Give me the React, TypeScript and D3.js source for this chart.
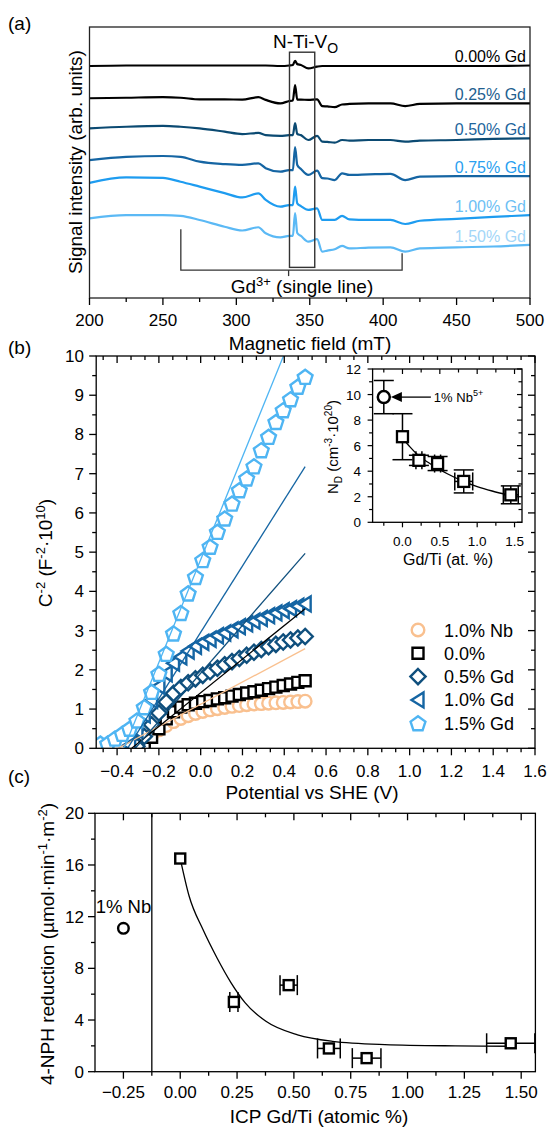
import React from 'react';
import * as d3 from 'd3';

// ---------- Panel (a): EPR spectra ----------
const FIELD = [200, 225, 250, 262, 275, 292, 304, 315, 320, 330, 336, 338.5, 340, 341.5, 344, 349, 355, 358.5, 362, 367, 372, 377, 390, 405, 415, 425, 450, 475, 500];
const TRACE_LABELS = ['0.00% Gd', '0.25% Gd', '0.50% Gd', '0.75% Gd', '1.00% Gd', '1.50% Gd'];
const T000 = [85.6, 85.8, 85.8, 85.8, 85.8, 85.8, 85.8, 85.8, 85.8, 85.6, 85.8, 86.0, 87.5, 86.3, 86.0, 84.7, 85.4, 85.6, 85.6, 85.6, 85.6, 85.6, 85.6, 85.6, 85.6, 85.6, 85.6, 85.6, 85.8];
const T025 = [73.7, 73.9, 74.1, 73.9, 73.3, 73.3, 73.2, 74.1, 73.1, 71.8, 72.7, 72.9, 78.6, 73.2, 73.2, 73.1, 73.3, 70.8, 70.7, 70.4, 71.4, 71.6, 71.8, 71.8, 70.8, 71.6, 71.8, 71.8, 71.8];
const T050 = [62.6, 63.2, 63.5, 63.2, 62.6, 61.4, 60.5, 60.9, 60.1, 59.8, 60.1, 60.1, 64.5, 60.5, 60.1, 58.3, 59.8, 57.7, 57.6, 57.3, 58.3, 58.1, 58.3, 58.3, 57.7, 58.1, 58.3, 58.7, 58.9];
const T075 = [50.9, 52.1, 52.4, 52.1, 50.3, 49.4, 49.1, 49.7, 47.9, 46.6, 47.2, 47.2, 55.7, 49.1, 47.6, 45.4, 47.0, 44.2, 44.1, 43.5, 46.0, 45.4, 45.6, 45.8, 43.5, 44.8, 45.0, 45.0, 45.0];
const T100 = [42.5, 44.5, 44.3, 42.9, 41.1, 38.7, 37.1, 38.6, 36.2, 33.7, 34.3, 34.3, 41.1, 34.9, 33.9, 32.5, 33.1, 28.8, 28.8, 28.8, 30.3, 29.0, 28.8, 28.8, 27.3, 28.5, 29.2, 29.9, 30.6];
const T150 = [29.4, 30.6, 30.6, 30.3, 28.8, 26.3, 24.9, 26.1, 23.9, 22.4, 22.9, 22.9, 31.3, 24.0, 22.9, 20.8, 21.7, 17.1, 17.5, 18.0, 19.2, 18.3, 18.6, 18.7, 17.1, 18.3, 18.7, 19.0, 19.6];
const TRACES = [T000, T025, T050, T075, T100, T150];
const A_XTICKS = [200, 250, 300, 350, 400, 450, 500];
const A_XMINOR = [225, 275, 325, 375, 425, 475];
const NTIVO_BOX = [336.2, 353.4, 90.7, 11.3]; // field from, field to, top, bottom (arb.)
const GD_BRACKET = [262.2, 412.9, 10.3, 25.4, 16.5]; // from, to, level, left top, right top

// ---------- Panel (b): Mott-Schottky ----------
const PB_X = [-0.48, -0.445, -0.41, -0.375, -0.34, -0.305, -0.27, -0.235, -0.2, -0.165, -0.13, -0.095, -0.06, -0.025, 0.01, 0.045, 0.08, 0.115, 0.15, 0.185, 0.22, 0.255, 0.29, 0.325, 0.36, 0.395, 0.43, 0.465, 0.5];
const N = null;
const NB10 = [N, N, N, N, N, 0.1, 0.2, 0.33, 0.47, 0.58, 0.68, 0.76, 0.83, 0.89, 0.94, 0.98, 1.01, 1.04, 1.07, 1.09, 1.11, 1.13, 1.14, 1.15, 1.16, 1.17, 1.18, 1.19, 1.2];
const GD00 = [N, N, N, N, N, N, 0.1, 0.28, 0.5, 0.75, 0.93, 1.05, 1.11, 1.15, 1.19, 1.22, 1.26, 1.29, 1.33, 1.37, 1.41, 1.44, 1.48, 1.52, 1.56, 1.6, 1.64, 1.68, 1.72];
const GD05 = [N, N, N, N, N, 0.05, 0.3, 0.6, 0.9, 1.18, 1.4, 1.55, 1.67, 1.77, 1.86, 1.95, 2.04, 2.13, 2.21, 2.29, 2.37, 2.45, 2.52, 2.59, 2.65, 2.71, 2.76, 2.81, 2.85];
const GD10 = [N, N, N, N, 0.08, 0.45, 0.85, 1.22, 1.58, 1.9, 2.17, 2.33, 2.48, 2.6, 2.7, 2.78, 2.87, 2.94, 3.02, 3.1, 3.17, 3.24, 3.31, 3.38, 3.45, 3.51, 3.56, 3.62, 3.68];
const GD15 = [0.12, 0.12, 0.25, 0.37, 0.5, 0.71, 1.05, 1.44, 1.9, 2.41, 2.93, 3.45, 3.95, 4.37, 4.8, 5.14, 5.52, 5.86, 6.24, 6.58, 6.88, 7.19, 7.6, 7.94, 8.32, 8.62, 8.9, 9.22, 9.47];
const PB_SERIES = [NB10, GD00, GD05, GD10, GD15];
const PB_NAMES = ['1.0% Nb', '0.0%', '0.5% Gd', '1.0% Gd', '1.5% Gd'];
const PB_COLORS = ['#f9c08f', '#000000', '#0f4f7d', '#1565a3', '#4fb5f3'];
const PB_SHAPES = ['circle', 'square', 'diamond', 'triangle', 'pentagon'];
// linear fits: start potential (C^-2 = 0) and value at 0.5 V
const FIT_X0 = [-0.395, -0.33, -0.313, -0.35, -0.367];
const FIT_X1 = [0.5, 0.5, 0.5, 0.5, 0.5];
const FIT_Y1 = [2.54, 3.56, 4.97, 7.18, 11.36];

// inset
const IN_X = [-0.25, 0, 0.22, 0.47, 0.82, 1.45];
const IN_Y = [9.8, 6.7, 4.85, 4.6, 3.2, 2.15];
const IN_YERR = [1.3, 1.8, 0.4, 0.55, 0.9, 0.7];
const IN_XERR = [0, 0, 0.04, 0.04, 0.12, 0.1];
const IN_FIT_X = [0, 0.1, 0.2, 0.3, 0.45, 0.6, 0.8, 1.0, 1.2, 1.45];
const IN_FIT_Y = [6.6, 5.9, 5.3, 4.85, 4.3, 3.8, 3.25, 2.8, 2.45, 2.1];

// ---------- Panel (c): 4-NPH reduction ----------
const C_NB = [-0.25, 11.1];
const C_X = [0, 0.236, 0.477, 0.654, 0.82, 1.454];
const C_Y = [16.5, 5.4, 6.7, 1.8, 1.05, 2.2];
const C_XERR = [0, 0.018, 0.038, 0.05, 0.063, 0.106];
const C_FIT_X = [0, 0.039, 0.1, 0.162, 0.223, 0.285, 0.377, 0.516, 0.67, 0.9, 1.21, 1.454];
const C_FIT_Y = [16.5, 13.6, 11.0, 8.8, 6.9, 5.35, 3.9, 2.85, 2.35, 2.1, 2.0, 1.97];
const C_DIVIDER = -0.125;

const FONT = "'Liberation Sans', Arial, Helvetica, sans-serif";
const TRACE_COLORS = ['#000000', '#000000', '#0b4a72', '#1565a3', '#1e9cf0', '#5bb9f5'];
const LABEL_COLORS = ['#000000', '#22608f', '#22659c', '#2a9ff0', '#6cc0f4', '#a3d6f8'];

function markerPath(shape: string): string {
  switch (shape) {
    case 'circle': {
      const r = 6.3;
      return `M${r},0A${r},${r} 0 1,1 ${-r},0A${r},${r} 0 1,1 ${r},0Z`;
    }
    case 'square': {
      const h = 5.5;
      return `M${-h},${-h}H${h}V${h}H${-h}Z`;
    }
    case 'diamond': {
      const h = 7.6;
      return `M0,${-h}L${h},0L0,${h}L${-h},0Z`;
    }
    case 'triangle':
      return `M-6.5,0L5.5,-7.5L5.5,7.5Z`;
    case 'pentagon': {
      const r = 7.8;
      const pts = d3.range(5).map((k) => {
        const a = (-90 + k * 72) * Math.PI / 180;
        return [r * Math.cos(a), r * Math.sin(a) + 0.8];
      });
      return 'M' + pts.map((p) => p.join(',')).join('L') + 'Z';
    }
  }
  return '';
}

export default function App() {
  // ---- scales
  const xA = d3.scaleLinear().domain([200, 500]).range([89.5, 530]);
  const yA = d3.scaleLinear().domain([0, 100]).range([298, 27]);
  const xB = d3.scaleLinear().domain([-0.5, 1.6]).range([96.2, 535]);
  const yB = d3.scaleLinear().domain([0, 10]).range([748.3, 356]);
  const xI = d3.scaleLinear().domain([-0.4, 1.6]).range([372.6, 522]);
  const yI = d3.scaleLinear().domain([0, 12]).range([522.3, 369]);
  const xC = d3.scaleLinear().domain([-0.375, 1.5625]).range([95, 535.4]);
  const yC = d3.scaleLinear().domain([0, 20]).range([1071.7, 813.3]);

  const lineA = (vals: number[]) =>
    d3.line<number>().x((_, i) => xA(FIELD[i])).y((d) => yA(d)).curve(d3.curveMonotoneX)(vals) || '';

  const fmt1 = d3.format('.1f');
  const fmt2 = d3.format('.2f');

  // panel b ticks
  const bMajX = d3.range(-2, 9).map((k) => k * 0.2);
  const bMinX = d3.range(-7, 25).filter((k) => k % 3 !== 0).map((k) => k * 0.2 / 3);
  const bMajY = d3.range(0, 11);
  const bMinY = d3.range(0, 10).map((k) => k + 0.5);
  // inset ticks
  const iMajX = [0, 0.5, 1.0, 1.5];
  const iMinX = [-0.25, 0.25, 0.75, 1.25];
  const iMajY = [0, 2, 4, 6, 8, 10, 12];
  const iMinY = [1, 3, 5, 7, 9, 11];
  // panel c ticks
  const cMajX = d3.range(-1, 7).map((k) => k * 0.25);
  const cMinX = d3.range(0, 7).map((k) => -0.125 + k * 0.25);
  const cMajY = [0, 4, 8, 12, 16, 20];
  const cMinY = [2, 6, 10, 14, 18];

  const AX = { stroke: '#000', strokeWidth: 1.3, fill: 'none' } as const;

  const [bx0, bx1] = xB.range();
  const [by0, by1] = yB.range();
  const [ix0, ix1] = xI.range();
  const [iy0, iy1] = yI.range();
  const [cx0, cx1] = xC.range();
  const [cy0, cy1] = yC.range();

  const inFit = d3.line<number>().x((d) => xI(d)).y((_, i) => yI(IN_FIT_Y[i])).curve(d3.curveMonotoneX)(IN_FIT_X) || '';
  const cFit = d3.line<number>().x((d) => xC(d)).y((_, i) => yC(C_FIT_Y[i])).curve(d3.curveMonotoneX)(C_FIT_X) || '';

  const arrowTipX = xI(-0.155);
  const arrowTailX = xI(0.38);
  const arrowY = yI(IN_Y[0]);

  return (
    <svg width={548} height={1127} style={{ position: 'absolute', left: 0, top: 0, background: '#fff' }} fontFamily={FONT}>
      <rect x={0} y={0} width={548} height={1127} fill="#fff" />
      <defs>
        <clipPath id="clipB">
          <rect x={bx0} y={by1} width={bx1 - bx0} height={by0 - by1} />
        </clipPath>
      </defs>

      {/* ================= Panel (a) ================= */}
      <text x={8} y={30} fontSize={19}>(a)</text>
      {TRACES.map((t, i) => (
        <path key={'tr' + i} d={lineA(t)} fill="none" stroke={TRACE_COLORS[i]} strokeWidth={2.2} strokeLinejoin="round" />
      ))}
      {TRACES.map((t, i) => (
        <text key={'tl' + i} x={526} y={yA(t[t.length - 1]) - 3} fontSize={16} textAnchor="end" fill={LABEL_COLORS[i]}>
          {TRACE_LABELS[i]}
        </text>
      ))}
      {/* N-Ti-Vo box */}
      <rect x={xA(NTIVO_BOX[0])} y={yA(NTIVO_BOX[2])} width={xA(NTIVO_BOX[1]) - xA(NTIVO_BOX[0])} height={yA(NTIVO_BOX[3]) - yA(NTIVO_BOX[2])} fill="none" stroke="#333" strokeWidth={1.4} />
      <text x={xA(325)} y={yA(92.1)} fontSize={19}>
        N-Ti-V<tspan dy={5} fontSize={14}>O</tspan>
      </text>
      {/* Gd3+ bracket */}
      <path
        d={`M${xA(GD_BRACKET[0])},${yA(GD_BRACKET[3])}V${yA(GD_BRACKET[2])}H${xA(GD_BRACKET[1])}V${yA(GD_BRACKET[4])}`}
        fill="none" stroke="#333" strokeWidth={1.3}
      />
      <line x1={xA(335.6)} x2={xA(335.6)} y1={yA(GD_BRACKET[2])} y2={yA(GD_BRACKET[2]) + 6} stroke="#333" strokeWidth={1.3} />
      <text x={xA(344.7)} y={yA(1.96)} fontSize={19} textAnchor="middle">
        Gd<tspan dy={-7} fontSize={13}>3+</tspan><tspan dy={7}> (single line)</tspan>
      </text>
      {/* frame */}
      <rect x={xA(200)} y={yA(100)} width={xA(500) - xA(200)} height={yA(0) - yA(100)} {...AX} stroke="#222" />
      {A_XTICKS.map((v) => (
        <g key={'ax' + v}>
          <line x1={xA(v)} x2={xA(v)} y1={yA(0)} y2={yA(0) + 7} stroke="#000" strokeWidth={1.3} />
          <text x={xA(v)} y={326} fontSize={17} textAnchor="middle">{v}</text>
        </g>
      ))}
      {A_XMINOR.map((v) => (
        <line key={'axm' + v} x1={xA(v)} x2={xA(v)} y1={yA(0)} y2={yA(0) + 4} stroke="#000" strokeWidth={1.3} />
      ))}
      <text x={310} y={350} fontSize={19} textAnchor="middle">Magnetic field (mT)</text>
      <text transform="translate(82,162) rotate(-90)" fontSize={19} textAnchor="middle">Signal intensity (arb. units)</text>

      {/* ================= Panel (b) ================= */}
      <text x={8} y={354} fontSize={19}>(b)</text>
      <g clipPath="url(#clipB)">
        {PB_SERIES.map((s, si) => (
          <g key={'pbs' + si}>
            {s.map((v, i) =>
              v === null ? null : (
                <path key={i} d={markerPath(PB_SHAPES[si])} transform={`translate(${xB(PB_X[i])},${yB(v)})`} fill="#fff" stroke={PB_COLORS[si]} strokeWidth={2.4} />
              )
            )}
          </g>
        ))}
        {FIT_X0.map((x0, i) => (
          <line key={'fit' + i} x1={xB(x0)} y1={yB(0)} x2={xB(FIT_X1[i])} y2={yB(FIT_Y1[i])} stroke={PB_COLORS[i]} strokeWidth={1.3} />
        ))}
      </g>
      {/* frame b */}
      <rect x={bx0} y={by1} width={bx1 - bx0} height={by0 - by1} {...AX} />
      {bMajX.map((v) => (
        <g key={'bx' + v}>
          <line x1={xB(v)} x2={xB(v)} y1={by0} y2={by0 + 7} stroke="#000" strokeWidth={1.3} />
          <line x1={xB(v)} x2={xB(v)} y1={by1} y2={by1 + 7} stroke="#000" strokeWidth={1.3} />
          <text x={xB(v)} y={777} fontSize={17} textAnchor="middle">{fmt1(v)}</text>
        </g>
      ))}
      {bMinX.map((v) => (
        <g key={'bxm' + v}>
          <line x1={xB(v)} x2={xB(v)} y1={by0} y2={by0 + 4} stroke="#000" strokeWidth={1.3} />
          <line x1={xB(v)} x2={xB(v)} y1={by1} y2={by1 + 4} stroke="#000" strokeWidth={1.3} />
        </g>
      ))}
      {bMajY.map((v) => (
        <g key={'by' + v}>
          <line x1={bx0 - 7} x2={bx0} y1={yB(v)} y2={yB(v)} stroke="#000" strokeWidth={1.3} />
          <line x1={bx1 - 7} x2={bx1} y1={yB(v)} y2={yB(v)} stroke="#000" strokeWidth={1.3} />
          <text x={84} y={yB(v) + 6} fontSize={17} textAnchor="end">{v}</text>
        </g>
      ))}
      {bMinY.map((v) => (
        <g key={'bym' + v}>
          <line x1={bx0 - 4} x2={bx0} y1={yB(v)} y2={yB(v)} stroke="#000" strokeWidth={1.3} />
          <line x1={bx1 - 4} x2={bx1} y1={yB(v)} y2={yB(v)} stroke="#000" strokeWidth={1.3} />
        </g>
      ))}
      <text x={312} y={799} fontSize={19} textAnchor="middle">Potential vs SHE (V)</text>
      <text transform="translate(52,553) rotate(-90)" fontSize={19} textAnchor="middle">
        C<tspan dy={-7} fontSize={13}>-2</tspan><tspan dy={7}> (F</tspan><tspan dy={-7} fontSize={13}>-2</tspan><tspan dy={7}>·10</tspan><tspan dy={-7} fontSize={13}>10</tspan><tspan dy={7}>)</tspan>
      </text>
      {/* legend */}
      {PB_NAMES.map((n, i) => (
        <g key={'lg' + i} transform={`translate(0,${630 + i * 23.3})`}>
          <path d={markerPath(PB_SHAPES[i])} transform="translate(418,0)" fill="#fff" stroke={PB_COLORS[i]} strokeWidth={2.4} />
          <text x={444} y={6.5} fontSize={18}>{n}</text>
        </g>
      ))}

      {/* inset */}
      <path d={inFit} fill="none" stroke="#000" strokeWidth={1.3} />
      {IN_X.map((x, i) => {
        const cx = xI(x), cy = yI(IN_Y[i]);
        const yt = yI(IN_Y[i] + IN_YERR[i]), yb = yI(IN_Y[i] - IN_YERR[i]);
        const xl = xI(x - IN_XERR[i]), xr = xI(x + IN_XERR[i]);
        return (
          <g key={'ie' + i} stroke="#000" strokeWidth={1.5} fill="none">
            <line x1={cx} x2={cx} y1={yt} y2={yb} />
            <line x1={cx - 10} x2={cx + 10} y1={yt} y2={yt} />
            <line x1={cx - 10} x2={cx + 10} y1={yb} y2={yb} />
            {IN_XERR[i] > 0 && (
              <g>
                <line x1={xl} x2={xr} y1={cy} y2={cy} />
                <line x1={xl} x2={xl} y1={cy - 9} y2={cy + 9} />
                <line x1={xr} x2={xr} y1={cy - 9} y2={cy + 9} />
              </g>
            )}
          </g>
        );
      })}
      {IN_X.map((x, i) =>
        i === 0 ? (
          <circle key={'im' + i} cx={xI(x)} cy={yI(IN_Y[i])} r={6} fill="#fff" stroke="#000" strokeWidth={2.5} />
        ) : (
          <rect key={'im' + i} x={xI(x) - 5.5} y={yI(IN_Y[i]) - 5.5} width={11} height={11} fill="#fff" stroke="#000" strokeWidth={2.3} />
        )
      )}
      <line x1={arrowTailX} x2={arrowTipX + 9} y1={arrowY} y2={arrowY} stroke="#000" strokeWidth={1.3} />
      <path d={`M${arrowTipX},${arrowY}L${arrowTipX + 11},${arrowY - 5}L${arrowTipX + 11},${arrowY + 5}Z`} fill="#000" />
      <text x={arrowTailX + 3} y={arrowY + 5} fontSize={13}>
        1% Nb<tspan dy={-6} fontSize={9}>5+</tspan>
      </text>
      <rect x={ix0} y={iy1} width={ix1 - ix0} height={iy0 - iy1} {...AX} />
      {iMajX.map((v) => (
        <g key={'ix' + v}>
          <line x1={xI(v)} x2={xI(v)} y1={iy0} y2={iy0 + 5} stroke="#000" strokeWidth={1.2} />
          <line x1={xI(v)} x2={xI(v)} y1={iy1} y2={iy1 + 5} stroke="#000" strokeWidth={1.2} />
          <text x={xI(v)} y={546} fontSize={13.5} textAnchor="middle">{fmt1(v)}</text>
        </g>
      ))}
      {iMinX.map((v) => (
        <g key={'ixm' + v}>
          <line x1={xI(v)} x2={xI(v)} y1={iy0} y2={iy0 + 3.5} stroke="#000" strokeWidth={1.2} />
          <line x1={xI(v)} x2={xI(v)} y1={iy1} y2={iy1 + 3.5} stroke="#000" strokeWidth={1.2} />
        </g>
      ))}
      {iMajY.map((v) => (
        <g key={'iy' + v}>
          <line x1={ix0 - 5} x2={ix0} y1={yI(v)} y2={yI(v)} stroke="#000" strokeWidth={1.2} />
          <line x1={ix1 - 5} x2={ix1} y1={yI(v)} y2={yI(v)} stroke="#000" strokeWidth={1.2} />
          <text x={361} y={yI(v) + 5} fontSize={13.5} textAnchor="end">{v}</text>
        </g>
      ))}
      {iMinY.map((v) => (
        <g key={'iym' + v}>
          <line x1={ix0 - 3.5} x2={ix0} y1={yI(v)} y2={yI(v)} stroke="#000" strokeWidth={1.2} />
          <line x1={ix1 - 3.5} x2={ix1} y1={yI(v)} y2={yI(v)} stroke="#000" strokeWidth={1.2} />
        </g>
      ))}
      <text x={448} y={565} fontSize={16} textAnchor="middle">Gd/Ti (at. %)</text>
      <text transform="translate(338,447) rotate(-90)" fontSize={15} textAnchor="middle">
        N<tspan dy={4} fontSize={10}>D</tspan><tspan dy={-4}> (cm</tspan><tspan dy={-6} fontSize={10}>-3</tspan><tspan dy={6}>·10</tspan><tspan dy={-6} fontSize={10}>20</tspan><tspan dy={6}>)</tspan>
      </text>

      {/* ================= Panel (c) ================= */}
      <text x={8} y={783} fontSize={19}>(c)</text>
      <line x1={xC(C_DIVIDER)} x2={xC(C_DIVIDER)} y1={cy1} y2={cy0} stroke="#000" strokeWidth={1.3} />
      <path d={cFit} fill="none" stroke="#000" strokeWidth={1.3} />
      {C_X.map((x, i) => {
        if (C_XERR[i] <= 0) return null;
        const cy = yC(C_Y[i]);
        const xl = xC(x - C_XERR[i]), xr = xC(x + C_XERR[i]);
        return (
          <g key={'ce' + i} stroke="#000" strokeWidth={1.5}>
            <line x1={xl} x2={xr} y1={cy} y2={cy} />
            <line x1={xl} x2={xl} y1={cy - 10} y2={cy + 10} />
            <line x1={xr} x2={xr} y1={cy - 10} y2={cy + 10} />
          </g>
        );
      })}
      {C_X.map((x, i) => (
        <rect key={'cm' + i} x={xC(x) - 5} y={yC(C_Y[i]) - 5} width={10} height={10} fill="#fff" stroke="#000" strokeWidth={2.4} />
      ))}
      <circle cx={xC(C_NB[0])} cy={yC(C_NB[1])} r={5.3} fill="#fff" stroke="#000" strokeWidth={2.4} />
      <text x={xC(C_NB[0])} y={913} fontSize={18.5} textAnchor="middle">1% Nb</text>
      <rect x={cx0} y={cy1} width={cx1 - cx0} height={cy0 - cy1} {...AX} />
      {cMajX.map((v) => (
        <g key={'cx' + v}>
          <line x1={xC(v)} x2={xC(v)} y1={cy0} y2={cy0 + 7} stroke="#000" strokeWidth={1.3} />
          <line x1={xC(v)} x2={xC(v)} y1={cy1} y2={cy1 + 7} stroke="#000" strokeWidth={1.3} />
          <text x={xC(v)} y={1098} fontSize={17} textAnchor="middle">{fmt2(v)}</text>
        </g>
      ))}
      {cMinX.map((v) => (
        <g key={'cxm' + v}>
          <line x1={xC(v)} x2={xC(v)} y1={cy0} y2={cy0 + 4} stroke="#000" strokeWidth={1.3} />
          <line x1={xC(v)} x2={xC(v)} y1={cy1} y2={cy1 + 4} stroke="#000" strokeWidth={1.3} />
        </g>
      ))}
      {cMajY.map((v) => (
        <g key={'cy' + v}>
          <line x1={cx0 - 7} x2={cx0} y1={yC(v)} y2={yC(v)} stroke="#000" strokeWidth={1.3} />
          <text x={84} y={yC(v) + 6} fontSize={17} textAnchor="end">{v}</text>
        </g>
      ))}
      {cMinY.map((v) => (
        <line key={'cym' + v} x1={cx0 - 4} x2={cx0} y1={yC(v)} y2={yC(v)} stroke="#000" strokeWidth={1.3} />
      ))}
      <text x={319} y={1123} fontSize={19} textAnchor="middle">ICP Gd/Ti (atomic %)</text>
      <text transform="translate(54,944) rotate(-90)" fontSize={19} textAnchor="middle">
        4-NPH reduction (µmol·min<tspan dy={-7} fontSize={13}>-1</tspan><tspan dy={7}>·m</tspan><tspan dy={-7} fontSize={13}>-2</tspan><tspan dy={7}>)</tspan>
      </text>
    </svg>
  );
}
